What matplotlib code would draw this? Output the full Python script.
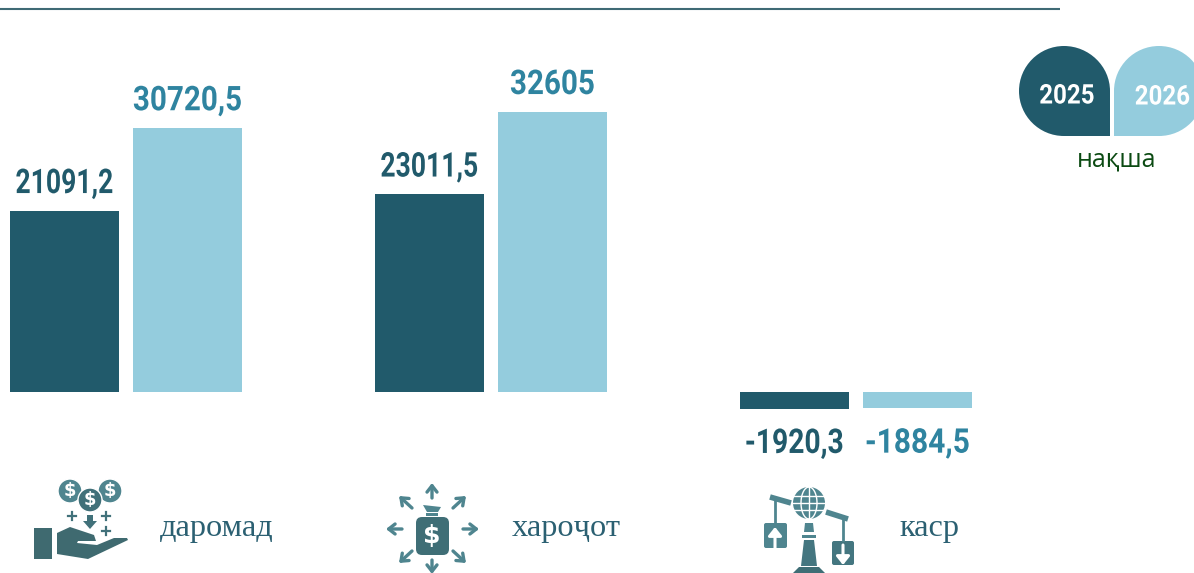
import matplotlib
matplotlib.use("Agg")
import matplotlib.pyplot as plt
from matplotlib.patches import Circle, Rectangle, Polygon, PathPatch, FancyBboxPatch
from matplotlib.path import Path
from matplotlib.patheffects import AbstractPathEffect
from matplotlib.transforms import Affine2D
import numpy as np

categories = ["даромад", "хароҷот", "каср"]
values_2025 = [21091.2, 23011.5, -1920.3]
values_2026 = [30720.5, 32605, -1884.5]
labels_2025 = ["21091,2", "23011,5", "-1920,3"]
labels_2026 = ["30720,5", "32605", "-1884,5"]
legend_years = ["2025", "2026"]
legend_note = "нақша"

DARK = "#215a6b"
LIGHT = "#94ccdd"
LABEL_LIGHT = "#2f84a0"
ICON = "#41717a"
ICON2 = "#4f858f"
TEXT = "#2b6072"

W, H = 1194, 573
cond = ["Roboto", "DejaVu Sans"]
serif = ["Liberation Serif", "DejaVu Serif"]
narrow_2025 = [0.78, 0.78, 0.83]
narrow_2026 = [0.87, 0.87, 0.88]


class Condense(AbstractPathEffect):
    """Narrow a text horizontally about its own centre."""
    def __init__(self, sx):
        super().__init__()
        self.sx = sx

    def draw_path(self, renderer, gc, tpath, affine, rgbFace=None):
        ext = tpath.get_extents()
        c = (ext.x0 + ext.x1) / 2
        t = Affine2D().translate(-c, 0).scale(self.sx, 1).translate(c, 0) + affine
        renderer.draw_path(gc, tpath, t, rgbFace)


fig = plt.figure(figsize=(W / 100, H / 100), dpi=100, facecolor="white")
ax = fig.add_axes([0, 0, 1, 1])
ax.set_xlim(-125.75 / 365, (W - 125.75) / 365)
scale = 0.0086
ax.set_ylim(-(H - 392) / scale, 392 / scale)
ax.axis("off")

x = np.arange(len(categories))
bw = 108.8 / 365
off = 61.6 / 365
ax.bar(x - off, values_2025, bw, color=DARK)
ax.bar(x + off, values_2026, bw, color=LIGHT)
for xs, vals, labs, col, nar in [(x - off, values_2025, labels_2025, DARK, narrow_2025),
                                 (x + off, values_2026, labels_2026, LABEL_LIGHT, narrow_2026)]:
    for xi, v, s, n in zip(xs, vals, labs, nar):
        pos = v >= 0
        ax.annotate(s, (xi, v), xytext=(0, 7.6 if pos else -14), textcoords="offset points",
                    ha="center", va="bottom" if pos else "top", color=col,
                    fontfamily=cond, fontweight="bold", fontsize=24.5,
                    path_effects=[Condense(n)])

# pixel overlay for decoration
px = fig.add_axes([0, 0, 1, 1], facecolor="none")
px.set_xlim(0, W)
px.set_ylim(H, 0)
px.axis("off")

px.plot([0, 1060], [9, 9], color="#3f6a75", lw=1.5, solid_capstyle="butt")

# legend drops
k = 0.5523
def drop(x0, x1, y0, y1, sharp_right, color):
    r = (y1 - y0) / 2
    if sharp_right:
        cx = x0 + r
        v = [(x1, y1), (x1, y0 + r), (x1, y0 + r - k * r), (cx + k * r, y0), (cx, y0),
             (cx - k * r, y0), (x0, y0 + r - k * r), (x0, y0 + r),
             (x0, y0 + r + k * r), (cx - k * r, y1), (cx, y1), (x1, y1), (x1, y1)]
    else:
        cx = x1 - r
        v = [(x0, y1), (x0, y0 + r), (x0, y0 + r - k * r), (cx - k * r, y0), (cx, y0),
             (cx + k * r, y0), (x1, y0 + r - k * r), (x1, y0 + r),
             (x1, y0 + r + k * r), (cx + k * r, y1), (cx, y1), (x0, y1), (x0, y1)]
    c = [Path.MOVETO, Path.LINETO] + [Path.CURVE4] * 9 + [Path.LINETO, Path.CLOSEPOLY]
    px.add_patch(PathPatch(Path(v, c), fc=color, ec="none"))

drop(1019, 1110, 46, 136, True, DARK)
drop(1114, 1204, 46, 136, False, LIGHT)
for cxp, cyp, yr in [(1067, 96, legend_years[0]), (1162.5, 97, legend_years[1])]:
    px.text(cxp, cyp, yr, color="white", ha="center", va="center",
            fontfamily=cond, fontweight="bold", fontsize=19.5,
            path_effects=[Condense(0.89)])
px.text(1117, 160, legend_note, color="#0b4a12", ha="center", va="center",
        fontfamily=["Open Sans", "DejaVu Sans"], fontsize=18)

# category labels
for cxp, t in zip([216.5, 566.5, 929.5], categories):
    px.text(cxp, 528.5, t, color=TEXT, ha="center", va="center", fontfamily=serif, fontsize=23.3)

# --- icon 1 : coins over a hand
for (cx, cy), col in zip([(70, 491), (110, 491), (90, 500)], [ICON2, ICON2, "#417079"]):
    px.add_patch(Circle((cx, cy), 12, fc=col, ec="white", lw=1))
    px.text(cx, cy, "$", color="white", ha="center", va="center", fontsize=13, fontweight="bold",
            fontfamily="DejaVu Sans")
for cx, cy in [(72, 516), (106, 516), (106, 531)]:
    px.plot([cx - 4, cx + 4], [cy, cy], color=ICON, lw=1.6)
    px.plot([cx, cx], [cy - 4, cy + 4], color=ICON, lw=1.6)
px.add_patch(Polygon([(87, 515), (93, 515), (93, 521), (97, 521), (90, 529), (83, 521), (87, 521)], fc=ICON, ec="none"))
px.add_patch(Rectangle((34, 528), 18, 31, fc="#3f6a70", ec="none"))
px.add_patch(Polygon([(57, 533), (70, 527), (94, 535), (96, 541), (78, 541), (77, 543), (97, 545),
                      (114, 538), (127, 538), (128, 540), (88, 559), (57, 554)],
                     fc="#3f6a70", ec="none"))

# --- icon 2 : bag with arrows
arrows = [((432, 498), (432, 483)), ((402, 529), (386, 529)), ((463, 529), (479, 529)),
          ((432, 560), (432, 574)), ((412, 508), (399, 496)), ((453, 508), (466, 496)),
          ((412, 551), (399, 563)), ((453, 551), (466, 563))]
for a, b in arrows:
    px.annotate("", xy=b, xytext=a, annotation_clip=False,
                arrowprops=dict(arrowstyle="->,head_width=0.36,head_length=0.46", color=ICON2, lw=2.4,
                                shrinkA=0, shrinkB=0))
px.add_patch(Polygon([(423, 505), (441, 507), (438, 512), (427, 512)], fc=ICON2, ec="none"))
px.add_patch(Rectangle((426, 513), 12, 2.5, fc=ICON2, ec="none"))
px.add_patch(FancyBboxPatch((419, 520), 27, 32, boxstyle="round,pad=3,rounding_size=6", fc="#3f6e76", ec="none"))
px.text(432, 536, "$", color="white", ha="center", va="center", fontsize=18, fontweight="bold",
        fontfamily="DejaVu Sans")

# --- icon 3 : globe on scales
px.add_patch(Circle((809, 503), 16, fc=ICON2, ec="none"))
for d in [-10, 0, 10]:
    px.plot([793, 825], [503 + d * 0.7, 503 + d * 0.7], color="white", lw=1)
px.plot([809, 809], [487, 519], color="white", lw=1)
th = np.linspace(-np.pi / 2, np.pi / 2, 30)
for s in [-1, 1]:
    px.plot(809 + s * 8 * np.cos(th), 503 + 16 * np.sin(th), color="white", lw=1)
px.plot([770, 791], [497, 503], color=ICON2, lw=4, solid_capstyle="butt")
px.plot([826, 848], [512, 519], color=ICON2, lw=4, solid_capstyle="butt")
px.plot([775, 775], [500, 522], color=ICON2, lw=2)
px.plot([843, 843], [518, 540], color=ICON2, lw=2)
px.add_patch(FancyBboxPatch((765, 524), 21, 23, boxstyle="round,pad=1,rounding_size=2", fc=ICON2, ec="none"))
px.add_patch(FancyBboxPatch((833, 542), 20, 22, boxstyle="round,pad=1,rounding_size=2", fc="#447680", ec="none"))
px.annotate("", xy=(775, 527), xytext=(775, 548), arrowprops=dict(arrowstyle="-|>,head_width=0.4,head_length=0.5", color="white", lw=2.2, shrinkA=0, shrinkB=0))
px.annotate("", xy=(843, 565), xytext=(843, 545), arrowprops=dict(arrowstyle="-|>,head_width=0.4,head_length=0.5", color="white", lw=2.2, shrinkA=0, shrinkB=0))
px.add_patch(Polygon([(805, 523), (813, 523), (814, 532), (804, 532)], fc=ICON2, ec="none"))
px.add_patch(Rectangle((802, 535), 14, 3, fc=ICON2, ec="none"))
px.add_patch(Polygon([(804, 540), (814, 540), (817, 566), (801, 566)], fc="#447680", ec="none"))
px.add_patch(Polygon([(799, 567), (819, 567), (825, 573), (793, 573)], fc="#3f6e76", ec="none"))

fig.savefig("out.png", dpi=100)
